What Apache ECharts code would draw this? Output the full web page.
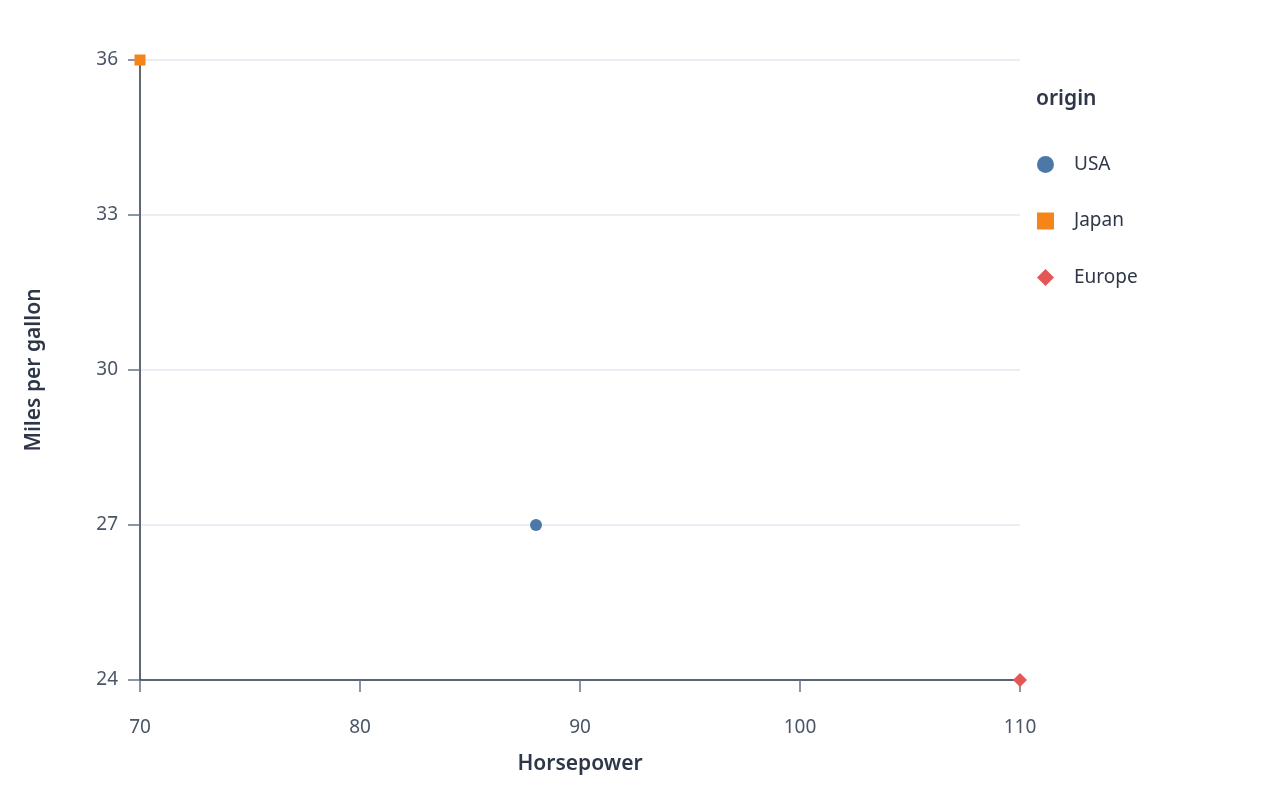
<!DOCTYPE html>
<html lang="en">
<head>
    <meta charset="UTF-8">
    <title>cars</title>
    <style>
        html, body { margin: 0; padding: 0; background: #fff; }
        #chart1 { width: 1280px; height: 800px; }
    </style>
</head>
<body>
<script src="https://cdn.jsdelivr.net/npm/echarts@6/dist/echarts.min.js"></script>
<div id="chart1"></div>
<script type="text/javascript">
    var origins = ['USA', 'Japan', 'Europe'];
    var usaPoints = [[88, 27]];
    var japanPoints = [[70, 36]];
    var europePoints = [[110, 24]];
    var xTicks = [70, 80, 90, 100, 110];
    var yTicks = [24, 27, 30, 33, 36];

    var font = 'Noto Sans';
    var textColor = '#2d3748';
    var tickColor = '#4a5568';

    var myChart1 = echarts.init(document.getElementById('chart1'));
    myChart1.setOption({
        animation: false,
        title: {
            text: 'origin',
            left: 1031,
            top: 84,
            textStyle: { fontFamily: font, fontSize: 21, fontWeight: 600, color: textColor }
        },
        legend: {
            data: origins,
            orient: 'vertical',
            left: 1032,
            top: 150,
            itemWidth: 17,
            itemHeight: 17,
            itemGap: 37.5,
            textStyle: { fontFamily: font, fontSize: 19, color: textColor, padding: [0, 0, 0, 15] }
        },
        grid: { left: 140, right: 260, top: 60, bottom: 120 },
        xAxis: {
            type: 'value',
            min: xTicks[0],
            max: xTicks[xTicks.length - 1],
            interval: 10,
            name: 'Horsepower',
            nameLocation: 'middle',
            nameGap: 74,
            nameTextStyle: { fontFamily: font, fontSize: 21, fontWeight: 600, color: textColor },
            axisLine: { lineStyle: { color: textColor, width: 1.5 } },
            axisTick: { show: true, length: 12, lineStyle: { color: '#64748b', width: 1.5 } },
            axisLabel: { fontFamily: font, fontSize: 19, color: tickColor, margin: 38 },
            splitLine: { show: false }
        },
        yAxis: {
            type: 'value',
            min: yTicks[0],
            max: yTicks[yTicks.length - 1],
            interval: 3,
            name: 'Miles per gallon',
            nameLocation: 'middle',
            nameGap: 95,
            nameTextStyle: { fontFamily: font, fontSize: 21, fontWeight: 600, color: textColor },
            axisLine: { show: true, lineStyle: { color: textColor, width: 1.5 } },
            axisTick: { show: true, length: 12, lineStyle: { color: '#64748b', width: 1.5 } },
            axisLabel: { fontFamily: font, fontSize: 19, color: tickColor, margin: 22 },
            splitLine: { show: true, lineStyle: { color: '#e2e8f0', width: 1.5 } }
        },
        series: [{
            name: 'USA',
            type: 'scatter',
            symbol: 'circle',
            symbolSize: 12,
            itemStyle: { color: '#4c78a8', opacity: 1 },
            data: usaPoints
        }, {
            name: 'Japan',
            type: 'scatter',
            symbol: 'rect',
            symbolSize: 11,
            itemStyle: { color: '#f58518', opacity: 1 },
            data: japanPoints
        }, {
            name: 'Europe',
            type: 'scatter',
            symbol: 'diamond',
            symbolSize: 14,
            itemStyle: { color: '#e45756', opacity: 1 },
            data: europePoints
        }]
    });
</script>
</body>
</html>
